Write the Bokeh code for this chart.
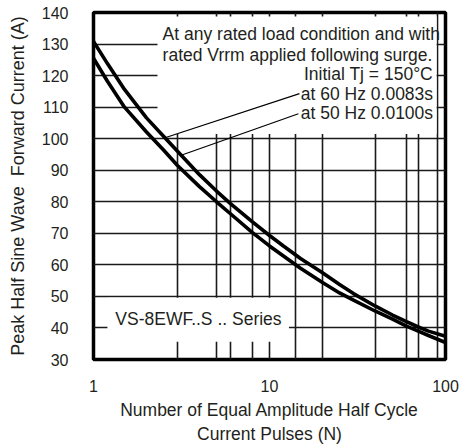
import numpy as np
from bokeh.plotting import figure
from bokeh.models import Range1d, FixedTicker
from bokeh.core.properties import value
from bokeh.embed import file_html
from bokeh.resources import INLINE

# ---- data ----
n_pulses = [1, 1.2, 1.5, 2, 2.5, 3, 4, 5, 6, 8, 10, 12, 15, 20, 25, 30,
            40, 50, 60, 70, 80, 100]
i_60hz = [130.8, 123.8, 115.6, 106.6, 100.8, 96.0, 88.6, 83.4, 79.4, 73.6,
          69.3, 66.0, 62.0, 57.5, 53.8, 50.9, 46.9, 44.1, 42.0, 40.3, 39.0,
          37.4]
i_50hz = [125.5, 118.2, 110.0, 102.1, 96.4, 91.5, 84.8, 80.0, 76.2, 70.2,
          66.0, 62.8, 58.9, 54.4, 51.1, 48.8, 45.3, 42.8, 40.6, 39.0, 37.6,
          35.4]

x_ticks = [1, 10, 100]
x_tick_labels = ["1", "10", "100"]
y_ticks = [30, 40, 50, 60, 70, 80, 90, 100, 110, 120, 130, 140]
x_grid = [3, 5, 6, 8, 10, 14, 20, 40, 60, 70, 90]
y_grid = [40, 50, 60, 70, 80, 90, 100, 110, 120, 130]

note_lines = ["At any rated load condition and with",
              "rated Vrrm applied following surge."]
note_right = ["Initial Tj = 150°C", "at 60 Hz 0.0083s", "at 50 Hz 0.0100s"]
series_label = "VS-8EWF..S .. Series"
pointer_n = [2.55, 3.15]

FONT = "Liberation Sans"
TXT = "#231f20"
FS = "17.5px"

p = figure(width=461, height=446, x_axis_type="log",
           x_range=Range1d(1, 100), y_range=Range1d(30, 140),
           output_backend="svg", toolbar_location=None,
           min_border_left=93, min_border_right=16,
           min_border_top=12, min_border_bottom=83)

p.outline_line_color = "black"
p.outline_line_width = 3.5
p.background_fill_color = "white"

# axes
p.xaxis.ticker = FixedTicker(ticks=x_ticks)
p.xaxis.major_label_overrides = {t: l for t, l in zip(x_ticks, x_tick_labels)}
p.yaxis.ticker = FixedTicker(ticks=y_ticks)
for ax in (p.xaxis, p.yaxis):
    ax.axis_line_color = None
    ax.major_tick_line_color = None
    ax.minor_tick_line_color = None
    ax.major_label_text_font = FONT
    ax.major_label_text_font_size = "16px"
    ax.major_label_text_color = TXT
    ax.axis_label_text_font = FONT
    ax.axis_label_text_font_size = FS
    ax.axis_label_text_font_style = "normal"
    ax.axis_label_text_color = TXT
p.yaxis.axis_label_text_font_size = "18px"
p.xaxis.major_label_standoff = 14
p.yaxis.major_label_standoff = 19
p.xaxis.axis_label = "Number of Equal Amplitude Half Cycle\nCurrent Pulses (N)"
p.yaxis.axis_label = "Peak Half Sine Wave\u00a0 Forward Current (A)"
p.xaxis.axis_label_standoff = 5
p.yaxis.axis_label_standoff = 11

# grid
p.xgrid.ticker = FixedTicker(ticks=x_grid)
p.ygrid.ticker = FixedTicker(ticks=y_grid)
for g in (p.xgrid, p.ygrid):
    g.grid_line_color = "#1a1a1a"
    g.grid_line_width = 1.6

# white boxes behind the notes
p.quad(left=[2.31], right=[89], bottom=[101.5], top=[138.7],
       fill_color="white", line_color=None)
p.quad(left=[1.2], right=[12.9], bottom=[35.6], top=[49.6],
       fill_color="white", line_color=None)

# pointer lines from notes to the curve
lx = np.log10(n_pulses)
p_end_y = [float(np.interp(np.log10(n), lx, i_60hz)) for n in pointer_n]
p.segment(x0=[14.8, 14.6], y0=[114.3, 107.9], x1=pointer_n, y1=p_end_y,
          line_color="black", line_width=1.2)

# curves
p.line(n_pulses, i_60hz, line_color="black", line_width=3.6)
p.line(n_pulses, i_50hz, line_color="black", line_width=3.6)

# notes
p.text(x=[2.47, 2.47], y=[133.1, 126.4], text=note_lines,
       text_font=value(FONT), text_font_size=FS, text_color=TXT,
       text_align="left", text_baseline="middle")
p.text(x=[85, 85, 85], y=[120.6, 114.3, 108.2], text=note_right,
       text_font=value(FONT), text_font_size=FS, text_color=TXT,
       text_align="right", text_baseline="middle")
p.text(x=[1.33], y=[42.9], text=[series_label],
       text_font=value(FONT), text_font_size=FS, text_color=TXT,
       text_align="left", text_baseline="middle")

open("out.html", "w").write(file_html(p, INLINE))
